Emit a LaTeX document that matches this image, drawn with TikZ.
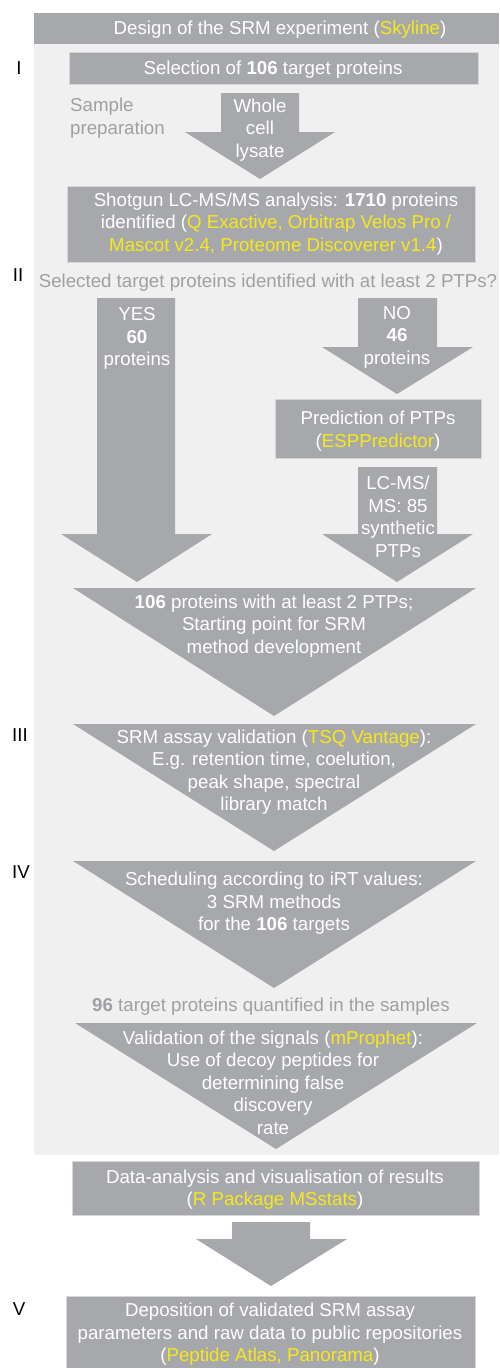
\documentclass[tikz,border=0pt]{standalone}
\usepackage{fontspec}
\setmainfont{Liberation Sans}
\definecolor{boxgray}{HTML}{A7A8AB}
\definecolor{panel}{HTML}{F0F0F0}
\definecolor{hlc}{HTML}{F7E81A}
\definecolor{txtgray}{HTML}{9FA0A3}
\definecolor{edgec}{HTML}{D6D6D8}
\newcommand{\hl}[1]{\textcolor{hlc}{#1}}
\begin{document}
\begin{tikzpicture}[x=1pt,y=-1pt,
  box/.style={fill=boxgray, draw=edgec, line width=0.8pt},
  blk/.style={fill=boxgray},
  wt/.style={text=white, align=center, font=\fontsize{18.7}{22.5}\selectfont, inner sep=0pt, yshift=-1.5pt},
  gt/.style={text=txtgray, align=center, font=\fontsize{18.7}{22.5}\selectfont, inner sep=0pt, yshift=-1.5pt},
  num/.style={text=black, font=\fontsize{18.7}{22.5}\selectfont, inner sep=0pt}]
\useasboundingbox (0,0) rectangle (499,1368);
% panel and title
\fill[panel] (34,44) rectangle (499,1155);
\fill[boxgray] (34,13) rectangle (499,44);
\node[wt] (title) at (280,28) {Design of the SRM experiment (\hl{Skyline})};
% numerals
\node[num] (n1) at (19,68) {I};
\node[num] (n2) at (18,275) {II};
\node[num] (n3) at (20,735) {III};
\node[num] (n4) at (21,872) {IV};
\node[num] (n5) at (19,1309) {V};
% stage I
\draw[box] (69,52) rectangle (478,84);
\node[wt] (sel) at (273,68) {Selection of \textbf{106} target proteins};
\node[gt, anchor=west, align=left] (sp) at (70,116.5) {Sample\\preparation};
\fill[blk] (221,93) -- (299,93) -- (299,132) -- (335,132) -- (260,179) -- (185,132) -- (221,132) -- cycle;
\node[wt] (wcl) at (260,128.5) {Whole\\cell\\lysate};
\draw[box] (67,186) rectangle (475,262);
\node[wt] (shot) at (276,222.5) {Shotgun LC-MS/MS analysis: \textbf{1710} proteins\\identified (\hl{Q Exactive, Orbitrap Velos Pro /}\\\hl{Mascot v2.4, Proteome Discoverer v1.4})};
% stage II
\node[gt] (q) at (268,281) {Selected target proteins identified with at least 2 PTPs?};
\fill[blk] (97,298) -- (175,298) -- (175,534) -- (212,534) -- (137,582) -- (61,534) -- (97,534) -- cycle;
\node[wt] (yes) at (137,337) {YES\\\textbf{60}\\proteins};
\fill[blk] (358,298) -- (437,298) -- (437,347) -- (473,347) -- (397,394) -- (322,347) -- (358,347) -- cycle;
\node[wt] (no) at (397,335.5) {NO\\\textbf{46}\\proteins};
\draw[box] (275,399) rectangle (481,458);
\node[wt] (pred) at (378,429.5) {Prediction of PTPs\\(\hl{ESPPredictor})};
\fill[blk] (358,467) -- (437,467) -- (437,534) -- (473,534) -- (397,582) -- (322,534) -- (358,534) -- cycle;
\node[wt] (lc) at (398,515.5) {LC-MS/\\MS: 85\\synthetic\\PTPs};
\fill[blk] (73,588) -- (476,588) -- (274,716) -- cycle;
\node[wt] (t1) at (274,624.5) {\textbf{106} proteins with at least 2 PTPs;\\Starting point for SRM\\method development};
% stage III
\fill[blk] (73,724) -- (476,724) -- (274,851) -- cycle;
\node[wt] (t2) at (274,770.5) {SRM assay validation (\hl{TSQ Vantage}):\\E.g. retention time, coelution,\\peak shape, spectral\\library match};
% stage IV
\fill[blk] (73,861) -- (476,861) -- (274,988) -- cycle;
\node[wt] (t3) at (274,902) {Scheduling according to iRT values:\\3 SRM methods\\for the \textbf{106} targets};
\node[gt] (q96) at (271,1005) {\textbf{96} target proteins quantified in the samples};
\fill[blk] (75,1023) -- (477,1023) -- (276,1149) -- cycle;
\node[wt] (t4) at (273,1081) {Validation of the signals (\hl{mProphet}):\\Use of decoy peptides for\\determining false\\discovery\\rate};
% stage V
\draw[box] (72,1161) rectangle (479,1215);
\node[wt] (da) at (275,1188) {Data-analysis and visualisation of results\\(\hl{R Package MSstats})};
\fill[blk] (232,1222) -- (310,1222) -- (310,1239) -- (347,1239) -- (271,1286) -- (196,1239) -- (232,1239) -- cycle;
\draw[box] (66,1296) rectangle (475,1372);
\node[wt] (dep) at (270,1333) {Deposition of validated SRM assay\\parameters and raw data to public repositories\\(\hl{Peptide Atlas, Panorama})};
\end{tikzpicture}
\end{document}
